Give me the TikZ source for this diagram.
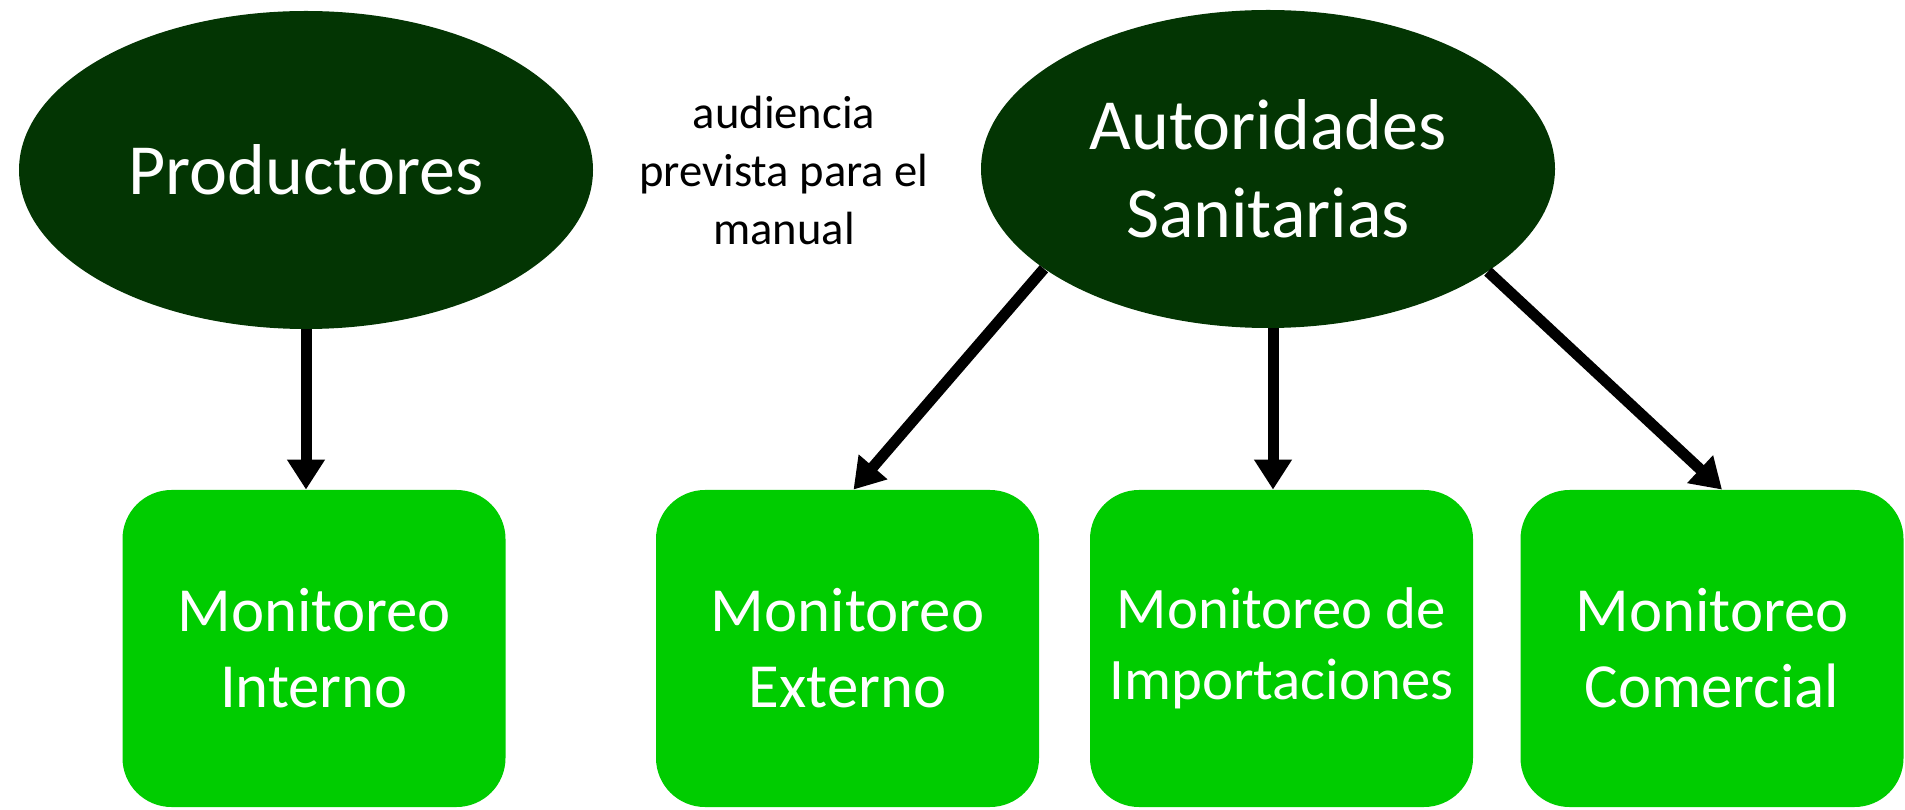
\documentclass[tikz,border=0pt]{standalone}
\usepackage{fontspec}
\setmainfont{Carlito}
\usetikzlibrary{shapes}
\usetikzlibrary{arrows.meta}
\definecolor{verdeosc}{RGB}{3,53,3}
\definecolor{verde}{RGB}{0,204,0}

\begin{document}
\begin{tikzpicture}[x=0.5pt,y=0.5pt,
	elip/.style={ellipse, fill=verdeosc, text=white, minimum width=287pt, minimum height=159pt, inner sep=0pt, align=center, font=\fontsize{36}{44}\selectfont},
	caja/.style={rectangle, rounded corners=24.5pt, fill=verde, text=white, minimum width=191.5pt, minimum height=158.5pt, inner sep=0pt, align=center, font=\fontsize{31.4}{38}\selectfont},
	flecha/.style={line width=5.5pt, -{Triangle[width=18pt,length=15pt]}}]
	\useasboundingbox (0,0) rectangle (1905,809);
	\node[elip] (prod) at (306,639) {Productores};
	\node[elip] (aut) at (1268,640) {Autoridades\\Sanitarias};
	\node[align=center, font=\fontsize{23.3}{29}\selectfont] (nota) at (784,639) {audiencia\\prevista para el\\manual};
	\node[caja] (int) at (314,160.5) {Monitoreo\\Interno};
	\node[caja] (ext) at (847.5,160.5) {Monitoreo\\Externo};
	\node[caja, font=\fontsize{29.4}{35.5}\selectfont] (imp) at (1281.5,160.5) {Monitoreo de\\Importaciones};
	\node[caja] (com) at (1712,160.5) {Monitoreo\\Comercial};
	\draw[flecha] (prod.south) -- (prod.south |- int.north);
	\draw[flecha] (aut.204) -- ([xshift=3pt]ext.north);
	\draw[flecha] ([xshift=2.5pt]aut.south) -- ([xshift=2.5pt]aut.south |- imp.north);
	\draw[flecha] (aut.335) -- ([xshift=5pt]com.north);
\end{tikzpicture}
\end{document}
